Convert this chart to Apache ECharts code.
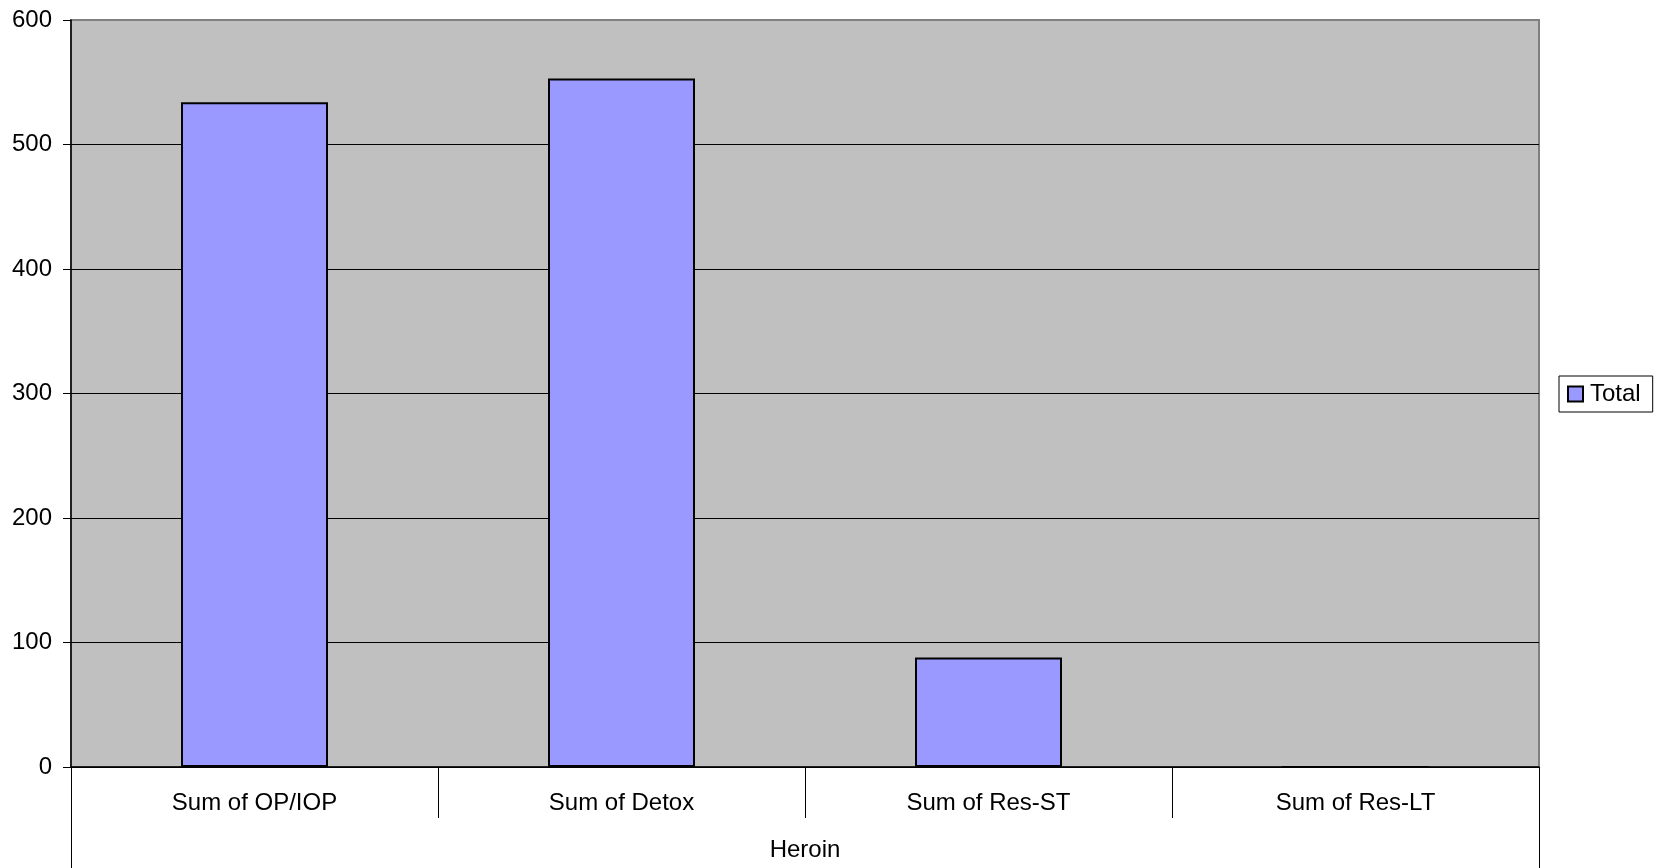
<!DOCTYPE html>
<html>
<head>
<meta charset="utf-8">
<script src="https://cdn.jsdelivr.net/npm/echarts@6/dist/echarts.min.js"></script>
<style>html,body{margin:0;padding:0;background:#fff}#c{width:1656px;height:868px}</style>
</head>
<body>
<div id="c"></div>
<script>
var categories = ['Sum of OP/IOP', 'Sum of Detox', 'Sum of Res-ST', 'Sum of Res-LT'];
var groupLabels = ['Heroin'];
var totals = [534, 553, 88, 0];
var seriesName = 'Total';

var FONT = '"Liberation Sans", Arial, sans-serif';
var chart = echarts.init(document.getElementById('c'), null, {renderer: 'canvas'});
chart.setOption({
  animation: false,
  backgroundColor: '#ffffff',
  textStyle: {fontFamily: FONT},
  grid: {
    left: 71, top: 20, right: 117, bottom: 101,
    show: true, backgroundColor: '#C0C0C0', borderColor: '#808080', borderWidth: 2
  },
  legend: {
    show: true,
    left: 1559, top: 376,
    orient: 'vertical',
    backgroundColor: '#ffffff',
    borderColor: '#000000', borderWidth: 1,
    padding: [6, 12, 6, 8],
    itemWidth: 15, itemHeight: 15,
    textStyle: {fontSize: 24, color: '#000', fontFamily: FONT, padding: [0, 0, 0, 2]},
    data: [{name: seriesName, icon: 'rect'}]
  },
  xAxis: [
    {
      type: 'category',
      data: categories,
      position: 'bottom',
      axisLine: {show: true, lineStyle: {color: '#000', width: 1.5}},
      axisTick: {show: true, length: 51, lineStyle: {color: '#000', width: 1}},
      axisLabel: {fontSize: 24, color: '#000', margin: 24, fontFamily: FONT},
      splitLine: {show: false}
    },
    {
      type: 'category',
      data: groupLabels,
      position: 'bottom',
      offset: 0,
      axisLine: {show: false},
      axisTick: {show: true, length: 101, lineStyle: {color: '#000', width: 1}},
      axisLabel: {fontSize: 24, color: '#000', margin: 71, fontFamily: FONT},
      splitLine: {show: false}
    }
  ],
  yAxis: {
    type: 'value',
    min: 0, max: 600, interval: 100,
    axisLine: {show: true, lineStyle: {color: '#000', width: 1.5}},
    axisTick: {show: true, length: 8, lineStyle: {color: '#000', width: 1}},
    axisLabel: {fontSize: 24, color: '#000', margin: 19, fontFamily: FONT},
    splitLine: {show: true, lineStyle: {color: ['#000', '#000', '#000', '#000', '#000', '#000', '#808080'], width: 1}}
  },
  series: [{
    name: seriesName,
    type: 'bar',
    xAxisIndex: 0,
    data: totals,
    barWidth: 147,
    itemStyle: {color: '#9999FF', borderColor: '#000', borderWidth: 2}
  }]
});
</script>
</body>
</html>
